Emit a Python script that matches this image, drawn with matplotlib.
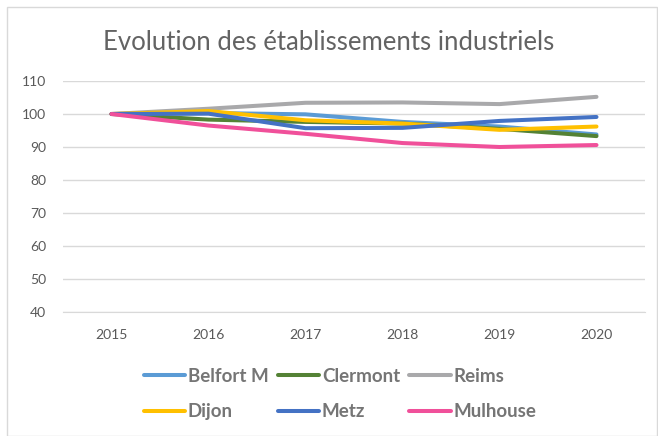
import matplotlib.pyplot as plt
from matplotlib.patches import Rectangle

years = ["2015", "2016", "2017", "2018", "2019", "2020"]
belfort = [100, 100.3, 99.9, 97.6, 96.2, 93.8]
clermont = [100, 98.3, 97.6, 97.1, 95.5, 93.3]
reims = [100, 101.6, 103.4, 103.5, 103.0, 105.2]
dijon = [100, 100.9, 98.1, 97.1, 95.2, 96.2]
metz = [100, 100.1, 95.7, 95.8, 97.9, 99.1]
mulhouse = [100, 96.5, 94.0, 91.2, 90.0, 90.6]

series = {
    "Belfort M": (belfort, "#5B9BD5"),
    "Clermont": (clermont, "#548235"),
    "Reims": (reims, "#A9A9AB"),
    "Dijon": (dijon, "#FFC000"),
    "Metz": (metz, "#4472C4"),
    "Mulhouse": (mulhouse, "#F0509A"),
}

plt.rcParams["font.family"] = ["Lato", "DejaVu Sans"]

fig = plt.figure(figsize=(6.58, 4.36), dpi=100)
fig.patches.append(Rectangle((7 / 658, 0), 650 / 658, 429 / 436, transform=fig.transFigure,
                             fill=False, edgecolor="#D9D9D9", lw=1))
ax = fig.add_axes([63 / 658, 1 - 312 / 436, 582 / 658, 231 / 436])

x = list(range(len(years)))
lines = {}
# draw in an order close to the reference stacking
for name in ["Reims", "Belfort M", "Clermont", "Dijon", "Metz", "Mulhouse"]:
    vals, color = series[name]
    lines[name], = ax.plot(x, vals, color=color, lw=2.9, solid_capstyle="round")

ax.set_xlim(-0.5, 5.5)
ax.set_ylim(40, 110)
ax.set_yticks(range(40, 111, 10))
ax.set_xticks(x)
ax.set_xticklabels(years)
ax.grid(axis="y", color="#D9D9D9", lw=1)
ax.set_axisbelow(True)
for side in ["top", "right", "left"]:
    ax.spines[side].set_visible(False)
ax.spines["bottom"].set_color("#D9D9D9")
ax.tick_params(length=0, colors="#595959", labelsize=10)
ax.tick_params(axis="x", pad=12)
ax.tick_params(axis="y", pad=12)

fig.text(0.5, 1 - 43 / 436, "Evolution des établissements industriels", ha="center", va="center",
         fontsize=18.5, color="#636363")

order = ["Belfort M", "Dijon", "Clermont", "Metz", "Reims", "Mulhouse"]
leg = fig.legend([lines[n] for n in order], order, ncol=3, loc="center",
                 bbox_to_anchor=(340 / 658, 1 - 394 / 436), frameon=False,
                 prop={"weight": "bold", "size": 13.5}, handlelength=2.2, handletextpad=0.15,
                 columnspacing=0.5, labelspacing=1.0)
for t in leg.get_texts():
    t.set_color("#757575")

fig.savefig("out.png", dpi=100)
